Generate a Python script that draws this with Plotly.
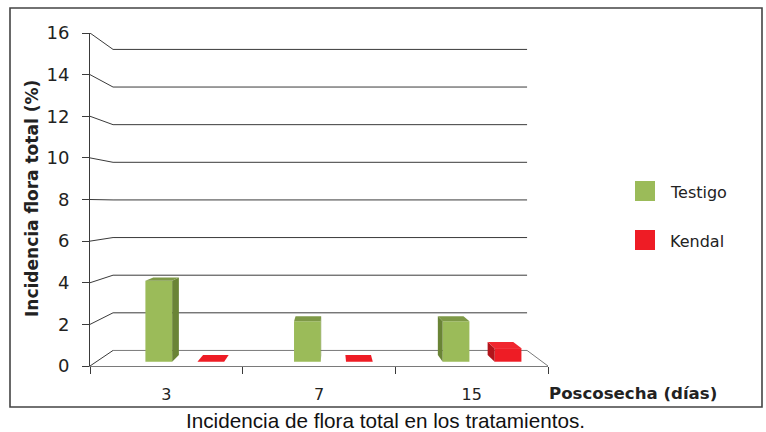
import plotly.graph_objects as go

# ---- data ----
categories = ["3", "7", "15"]
series_names = ["Testigo", "Kendal"]
testigo = [4.0, 2.0, 2.0]
kendal = [0.0, 0.0, 0.67]
y_ticks = [0, 2, 4, 6, 8, 10, 12, 14, 16]

# ---- styling / geometry ----
W, H = 766, 432
FONT = "Verdana, DejaVu Sans, sans-serif"
GREEN = dict(front="#9BBB59", top="#7E9947", side="#6A8436")
RED = dict(front="#EE1C25", top="#F0262E", side="#B2141B")
LINE = "#3a3a3a"

# perspective model in axis units (x: 0..3 categories, y: 0..16 front plane)
XVP, VVP = 1.572, 7.785
S_BACK = 0.904      # back wall
S_BF, S_BB = 0.9735, 0.932   # bar front / bar back planes
# bar x-extent within each category band
BAR_POS = {"Testigo": (0.33, 0.51), "Kendal": (0.68, 0.86)}


def proj(X, V, s):
    return XVP + (X - XVP) * s, VVP + (V - VVP) * s


fig = go.Figure()
shapes = []

# back wall gridlines + left wall diagonals (drawn below bars)
for v in y_ticks:
    xb0, vb = proj(0, v, S_BACK)
    xb1, _ = proj(3, v, S_BACK)
    shapes.append(dict(type="line", xref="x", yref="y", x0=0, y0=v, x1=xb0, y1=vb,
                       line=dict(color=LINE, width=1), layer="below"))
    shapes.append(dict(type="line", xref="x", yref="y", x0=xb0, y0=vb, x1=xb1, y1=vb,
                       line=dict(color=LINE if v else "#7a7a7a", width=1), layer="below"))
# floor right edge
xr, vr = proj(3, 0, S_BACK)
shapes.append(dict(type="line", xref="x", yref="y", x0=3, y0=0, x1=xr, y1=vr,
                   line=dict(color="#7a7a7a", width=1), layer="below"))


def add_series(name, values, col):
    lo, hi = BAR_POS[name]
    xs, bases, heights, widths = [], [], [], []
    for i, v in enumerate(values):
        x0, x1 = i + lo, i + hi
        fx0, fb = proj(x0, 0, S_BF)
        fx1, ft = proj(x1, v, S_BF)
        bx0, bt = proj(x0, v, S_BB)
        bx1, _ = proj(x1, v, S_BB)
        _, bb = proj(x0, 0, S_BB)
        # side face
        if x1 < XVP:
            fig.add_trace(go.Scatter(x=[fx1, bx1, bx1, fx1, fx1], y=[fb, bb, bt, ft, fb],
                                     fill="toself", fillcolor=col["side"], mode="lines",
                                     line=dict(width=0), hoverinfo="skip", showlegend=False))
        elif x0 > XVP:
            fig.add_trace(go.Scatter(x=[fx0, bx0, bx0, fx0, fx0], y=[fb, bb, bt, ft, fb],
                                     fill="toself", fillcolor=col["side"], mode="lines",
                                     line=dict(width=0), hoverinfo="skip", showlegend=False))
        # top face
        fig.add_trace(go.Scatter(x=[fx0, fx1, bx1, bx0, fx0], y=[ft, ft, bt, bt, ft],
                                 fill="toself", fillcolor=col["top"] if v > 0 else col["front"],
                                 mode="lines", line=dict(width=0), hoverinfo="skip",
                                 showlegend=False))
        xs.append((fx0 + fx1) / 2)
        widths.append(fx1 - fx0)
        bases.append(fb)
        heights.append(ft - fb)
    fig.add_trace(go.Bar(x=xs, y=heights, base=bases, width=widths, name=name,
                         marker=dict(color=col["front"], line=dict(width=0)),
                         showlegend=False))


add_series("Testigo", testigo, GREEN)
add_series("Kendal", kendal, RED)

# ---- legend (custom squares + text) ----
def px(xp):
    return xp / W


def py(yp):
    return 1 - yp / H


annotations = []
for name, col, yc in [("Testigo", GREEN["front"], 191), ("Kendal", RED["front"], 240)]:
    shapes.append(dict(type="rect", xref="paper", yref="paper", x0=px(635), x1=px(655),
                       y0=py(yc - 10), y1=py(yc + 10), fillcolor=col, line=dict(width=0)))
    annotations.append(dict(text=name, xref="paper", yref="paper", x=px(668), y=py(yc + 1),
                            xanchor="left", yanchor="middle", showarrow=False,
                            font=dict(family=FONT, size=16, color="#222")))

# axis titles
annotations.append(dict(text="<b>Incidencia flora total (%)</b>", xref="paper", yref="paper",
                        x=px(32), y=py(199), textangle=-90, showarrow=False,
                        xanchor="center", yanchor="middle",
                        font=dict(family=FONT, size=17, color="#222")))
annotations.append(dict(text="<b>Poscosecha (días)</b>", xref="paper", yref="paper",
                        x=px(547), y=py(393), xanchor="left", yanchor="middle",
                        showarrow=False, font=dict(family=FONT, size=16.6, color="#222")))
# caption
annotations.append(dict(text="Incidencia de flora total en los tratamientos.", xref="paper",
                        yref="paper", x=px(385), y=py(420), xanchor="center", yanchor="middle",
                        showarrow=False,
                        font=dict(family="Liberation Sans, Arial, sans-serif", size=20.7,
                                  color="#111")))
# outer border
shapes.append(dict(type="rect", xref="paper", yref="paper", x0=px(10), x1=px(762),
                   y0=py(407), y1=py(8), line=dict(color="#444", width=1.6),
                   fillcolor="rgba(0,0,0,0)"))

fig.update_layout(
    width=W, height=H, margin=dict(l=0, r=0, t=0, b=0, autoexpand=False),
    paper_bgcolor="white", plot_bgcolor="white",
    barmode="overlay", showlegend=False,
    shapes=shapes, annotations=annotations,
    xaxis=dict(domain=[90 / W, 548 / W], range=[0, 3], showgrid=False, zeroline=False,
               automargin=False,
               showline=True, linecolor="#7a7a7a", linewidth=1,
               tickvals=[0.5, 1.5, 2.5], ticktext=categories, ticks="",
               ticklabelstandoff=14,
               tickfont=dict(family=FONT, size=16, color="#222"),
               minor=dict(tickvals=[0, 1, 2, 3], ticks="outside", ticklen=7,
                          tickcolor=LINE, tickwidth=1),
               fixedrange=True),
    yaxis=dict(domain=[1 - 366 / H, 1 - 33 / H], range=[0, 16], showgrid=False,
               automargin=False,
               zeroline=False, showline=True, linecolor=LINE, linewidth=1,
               tickvals=y_ticks, ticks="outside", ticklen=7, tickcolor=LINE,
               ticklabelstandoff=9,
               tickfont=dict(family=FONT, size=18, color="#222"), fixedrange=True),
)

fig.write_html("out.html", config={"displayModeBar": False},
               post_script="document.body.style.margin='0';document.body.style.overflow='hidden';")
